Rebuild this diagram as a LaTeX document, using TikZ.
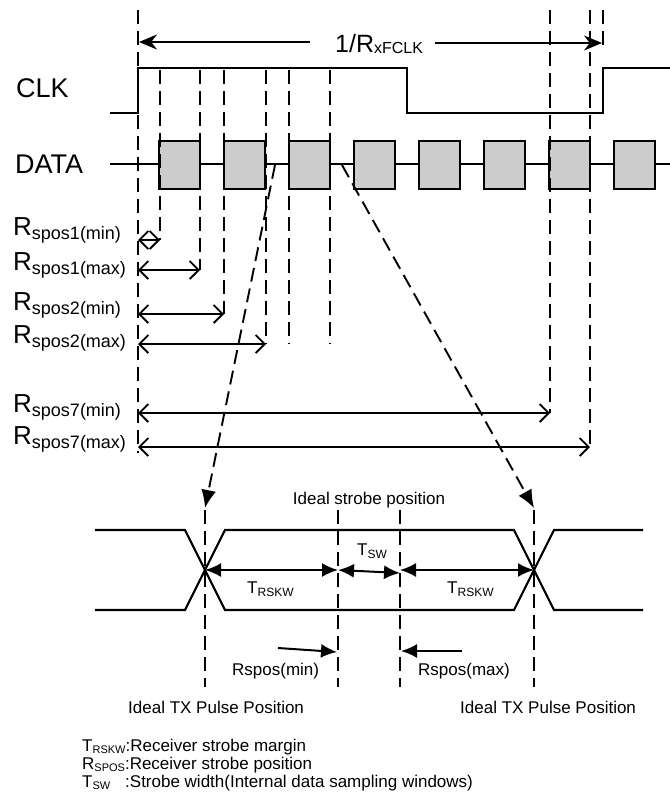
\documentclass[tikz,border=0pt]{standalone}
\usepackage{fontspec}
\setmainfont{Liberation Sans}
\usetikzlibrary{arrows.meta,positioning,calc}

\newcommand{\fsz}[1]{\fontsize{#1}{#1}\selectfont}
% symbol with a lowered subscript: size, subsize, drop, symbol, subscript
\newcommand{\symsub}[5]{{\fsz{#1}#4}\raisebox{-#3}{\fsz{#2}#5}}
\newcommand{\rpos}[1]{\symsub{26}{18}{4pt}{R}{#1}}

\begin{document}
\begin{tikzpicture}[
	x=1pt, y=-1pt,
	font=\fsz{17},
	sig/.style={line width=2.1pt, line join=miter},
	guide/.style={line width=1.9pt, dash pattern=on 14pt off 7pt},
	bitbox/.style={sig, fill=black!20},
	span/.style={line width=1.8pt,
		{Straight Barb[length=9pt,width=18pt]}-{Straight Barb[length=9pt,width=18pt]}},
	period/.style={line width=2pt, -{Stealth[length=18pt,width=15pt]}},
	win/.style={line width=2pt, {Latex[length=16pt,width=14pt]}-{Latex[length=16pt,width=14pt]}},
	pointer/.style={line width=2pt, -{Latex[length=16pt,width=14pt]}},
	zoomline/.style={guide, -{Latex[length=18pt,width=15pt]}},
	lbl/.style={inner sep=0pt, anchor=base west},
]
\useasboundingbox (0,0) rectangle (670,796);

% --- Signale ---
\node[lbl] (clk) at (16,97) {\fsz{27}CLK};
\node[lbl] (data) at (15,173) {\fsz{27}DATA};

\draw[sig] (110,113) -- (138,113) -- (138,68) -- (407,68) -- (407,113)
	-- (603,113) -- (603,68) -- (670,68);
\draw[sig] (110,164) -- (670,164);
\foreach \i in {0,...,7}
	\draw[bitbox] ({159+65*\i},141) rectangle ++(41,48);

% --- Hilfslinien ---
\draw[guide] (138,10) -- (138,453);
\foreach \x/\y in {160/240, 200/270, 224/314, 266/344, 289/344, 330/344}
	\draw[guide] (\x,70) -- (\x,\y);
\draw[guide] (550,10) -- (550,413);
\draw[guide] (590,10) -- (590,447);
\draw[guide] (603,10) -- (603,50);

% --- Taktperiode ---
\node[lbl] (rate) at (335,52) {\symsub{25}{16}{1pt}{1/R}{xFCLK}};
\draw[period] (310,42) -- (139,42);
\draw[period] (435,43) -- (602,43);

% --- Strobe-Positionen ---
\node[lbl] (p1min) at (13,235) {\rpos{spos1(min)}};
\node[lbl] (p1max) at (13,270) {\rpos{spos1(max)}};
\node[lbl] (p2min) at (13,310) {\rpos{spos2(min)}};
\node[lbl] (p2max) at (13,343) {\rpos{spos2(max)}};
\node[lbl] (p7min) at (13,412) {\rpos{spos7(min)}};
\node[lbl] (p7max) at (13,444) {\rpos{spos7(max)}};

\draw[span] (138,240) -- (160,240);
\draw[span] (138,270) -- (200,270);
\draw[span] (138,314) -- (224,314);
\draw[span] (138,344) -- (266,344);
\draw[span] (138,413) -- (550,413);
\draw[span] (138,447) -- (590,447);

% --- Vergroesserung ---
\coordinate (xL) at (205,570);
\coordinate (xR) at (534,570);
\coordinate (sL) at (338,570);
\coordinate (sR) at (400,570);

\draw[zoomline] (275,165) -- (205,508);
\draw[zoomline] (342,165) -- (534,508);

\draw[sig] (95,530) -- (185,530) -- (225,610) -- (514,610) -- (554,530) -- (643,530);
\draw[sig] (95,610) -- (185,610) -- (225,530) -- (514,530) -- (554,610) -- (643,610);
\foreach \x in {205,338,400,534}
	\draw[guide] (\x,510) -- (\x,687);

\node[anchor=base] (strobe) at (369,504) {Ideal strobe position};

\draw[win] (xL) -- (sL);
\draw[win] (sL) -- ($(sR)+(0,3)$);
\draw[win] (sR) -- (xR);
\node[lbl] (tsw) at (357,555) {\symsub{17}{12}{3pt}{T}{SW}};
\node[lbl] (tskwL) at (247,593) {\symsub{17}{12}{3pt}{T}{RSKW}};
\node[lbl] (tskwR) at (447,593) {\symsub{17}{12}{3pt}{T}{RSKW}};

\draw[pointer] (278,648) -- (337,652);
\draw[pointer] (462,651) -- (401,651);
\node[lbl] (rmin) at (232,675) {Rspos(min)};
\node[lbl] (rmax) at (418,675) {Rspos(max)};

\node[lbl] (txL) at (128,713) {Ideal TX Pulse Position};
\node[lbl] (txR) at (460,713) {Ideal TX Pulse Position};

% --- Legende ---
\node[lbl] (leg1) at (82,751) {\symsub{17}{11}{2pt}{T}{RSKW}:Receiver strobe margin};
\node[lbl] (leg2) at (82,769) {\symsub{17}{11}{2pt}{R}{SPOS}:Receiver strobe position};
\node[lbl] (leg3) at (82,787) {\makebox[43pt][l]{\symsub{17}{11}{2pt}{T}{SW}}:Strobe width(Internal data sampling windows)};

\end{tikzpicture}
\end{document}
